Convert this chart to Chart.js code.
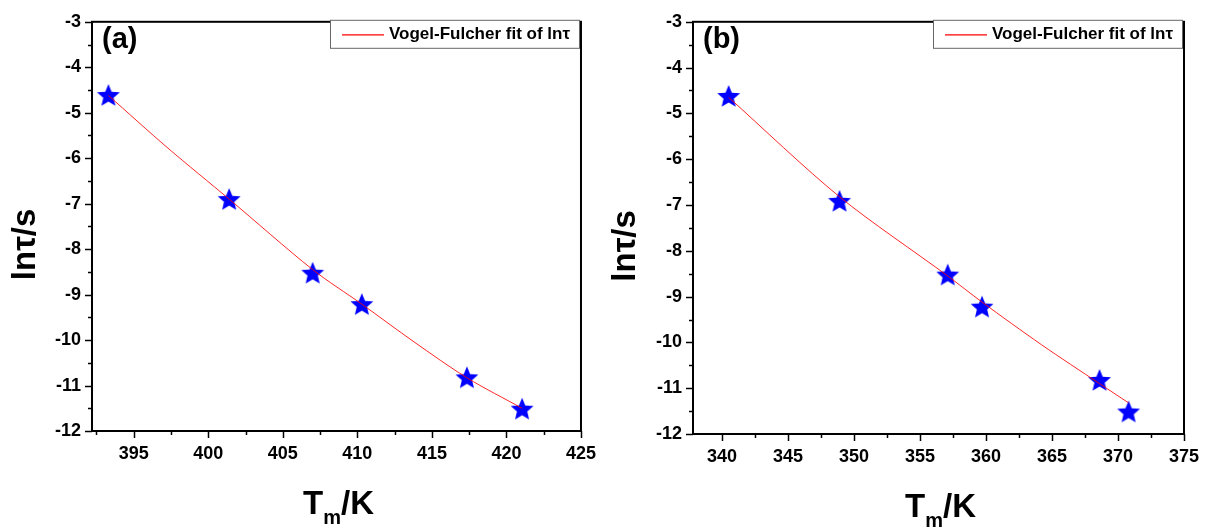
<!DOCTYPE html>
<html>
<head>
<meta charset="utf-8">
<script src="https://cdn.jsdelivr.net/npm/chart.js@4.4.0/dist/chart.umd.min.js"></script>
<style>
  body { margin: 0; background: #fff; }
  #wrap { position: relative; width: 1212px; height: 530px; }
  canvas { position: absolute; top: 0; }
</style>
</head>
<body>
<div id="wrap">
  <canvas id="chartA" width="608" height="530" style="left:0"></canvas>
  <canvas id="chartB" width="612" height="530" style="left:600px"></canvas>
</div>
<script>
// panel (a): measured ln(tau) against T_m
const tempA = [393.3, 401.4, 407.0, 410.3, 417.35, 421.05];
const lnTauA = [-4.61, -6.90, -8.52, -9.21, -10.82, -11.51];
// Vogel-Fulcher fit curve
const fitTempA = [393.3, 397.3, 401.4, 407.0, 410.3, 413.8, 417.35, 421.05];
const fitLnTauA = [-4.62, -5.78, -6.90, -8.45, -9.21, -10.04, -10.83, -11.50];

// panel (b)
const tempB = [340.5, 348.9, 357.1, 359.7, 368.6, 370.8];
const lnTauB = [-4.62, -6.91, -8.52, -9.22, -10.82, -11.51];
const fitTempB = [340.5, 348.9, 357.1, 359.7, 364.2, 368.6, 370.8];
const fitLnTauB = [-4.65, -6.82, -8.55, -9.12, -10.05, -10.90, -11.32];

// tick labels
const xLabelsA = [395, 400, 405, 410, 415, 420, 425];
const xLabelsB = [340, 345, 350, 355, 360, 365, 370, 375];
const yLabels = [-12, -11, -10, -9, -8, -7, -6, -5, -4, -3];

const LEGEND_TEXT = "Vogel-Fulcher fit of ln\u03c4";

function makeStar(r) {
  const c = document.createElement("canvas");
  c.width = c.height = Math.ceil(2 * r + 2);
  const g = c.getContext("2d");
  g.fillStyle = "#0000ff";
  g.beginPath();
  for (let i = 0; i < 10; i++) {
    const rad = i % 2 ? r * 0.45 : r;
    const a = -Math.PI / 2 + i * Math.PI / 5;
    const px = c.width / 2 + rad * Math.cos(a);
    const py = c.height / 2 + 1 + rad * Math.sin(a);
    if (i === 0) g.moveTo(px, py); else g.lineTo(px, py);
  }
  g.closePath();
  g.fill();
  return c;
}
const star = makeStar(12);

const near = (v, step) => Math.abs(v / step - Math.round(v / step)) < 1e-6;

// ticks on every step inside the axis range
function stepTicks(s, step) {
  const out = [];
  for (let v = Math.ceil(s.min / step - 1e-9) * step; v <= s.max + 1e-9; v += step) {
    out.push({ value: Math.round(v * 1000) / 1000 });
  }
  s.ticks = out;
}

// frame, minor/major ticks, panel letter, legend box and axis titles
const decor = {
  id: "decor",
  afterDraw(chart, args, opts) {
    const { ctx, chartArea: a } = chart;
    const xs = chart.scales.x, ys = chart.scales.y;
    ctx.save();
    ctx.strokeStyle = "#000";
    ctx.lineWidth = 1.5;
    xs.ticks.forEach(t => {
      const px = Math.round(xs.getPixelForValue(t.value)) + 0.5;
      const len = near(t.value, 5) ? 7 : 4;
      ctx.beginPath(); ctx.moveTo(px, a.bottom); ctx.lineTo(px, a.bottom + len); ctx.stroke();
    });
    ys.ticks.forEach(t => {
      const py = Math.round(ys.getPixelForValue(t.value)) + 0.5;
      const len = near(t.value, 1) ? 7 : 4;
      ctx.beginPath(); ctx.moveTo(a.left, py); ctx.lineTo(a.left - len, py); ctx.stroke();
    });
    ctx.lineWidth = 2;
    ctx.strokeRect(a.left, a.top, a.right - a.left, a.bottom - a.top);

    // legend
    const bx = a.right - 251, by = a.top - 2, bw = 249, bh = 28;
    ctx.fillStyle = "#fff";
    ctx.fillRect(bx, by, bw, bh);
    ctx.lineWidth = 1;
    ctx.strokeStyle = "#666";
    ctx.strokeRect(bx + 0.5, by + 0.5, bw, bh);
    ctx.strokeStyle = "#ff0000";
    ctx.lineWidth = 1.2;
    ctx.beginPath(); ctx.moveTo(bx + 12, by + 15); ctx.lineTo(bx + 54, by + 15); ctx.stroke();
    ctx.fillStyle = "#000";
    ctx.font = "bold 17px 'Liberation Sans', Arial, sans-serif";
    ctx.textBaseline = "middle";
    ctx.textAlign = "left";
    ctx.fillText(LEGEND_TEXT, bx + 59, by + 15);

    // panel letter
    ctx.font = "bold 29px 'Liberation Sans', Arial, sans-serif";
    ctx.textBaseline = "alphabetic";
    ctx.fillText(opts.letter, a.left + 10, a.top + 26);

    // y title
    ctx.font = "bold 33px 'Liberation Sans', Arial, sans-serif";
    ctx.save();
    ctx.translate(9, (a.top + a.bottom) / 2 + 18);
    ctx.rotate(-Math.PI / 2);
    ctx.textAlign = "center";
    ctx.textBaseline = "top";
    ctx.fillText("ln\u03c4/s", 0, 0);
    ctx.restore();

    // x title T_m/K
    const big = "bold 33px 'Liberation Sans', Arial, sans-serif";
    const small = "bold 20px 'Liberation Sans', Arial, sans-serif";
    ctx.font = big; const wT = ctx.measureText("T").width; const wK = ctx.measureText("/K").width;
    ctx.font = small; const wm = ctx.measureText("m").width;
    let x0 = (a.left + a.right) / 2 - (wT + wm + wK) / 2 + 2;
    const base = a.bottom + 83;
    ctx.textAlign = "left";
    ctx.font = big; ctx.fillText("T", x0, base);
    ctx.font = small; ctx.fillText("m", x0 + wT, base + 10);
    ctx.font = big; ctx.fillText("/K", x0 + wT + wm, base);
    ctx.restore();
  }
};

function makeChart(id, temp, lnTau, fitT, fitY, xLabels, xmin, xmax, box, letter) {
  const xTickSet = new Set(xLabels);
  const yTickSet = new Set(yLabels);
  const tickFont = { family: "'Liberation Sans', Arial, sans-serif", weight: "bold", size: 18 };
  return new Chart(document.getElementById(id), {
    type: "scatter",
    data: {
      datasets: [
        {
          label: LEGEND_TEXT,
          data: fitT.map((t, i) => ({ x: t, y: fitY[i] })),
          showLine: true,
          borderColor: "rgba(255,0,0,0.85)",
          borderWidth: 1,
          pointRadius: 0,
          tension: 0.3,
          fill: false
        },
        {
          label: "ln tau",
          data: temp.map((t, i) => ({ x: t, y: lnTau[i] })),
          pointStyle: star,
          pointRadius: 12,
          showLine: false
        }
      ]
    },
    options: {
      responsive: false,
      animation: false,
      layout: { padding: { left: 0, top: box.top, right: box.right, bottom: 0 } },
      plugins: {
        legend: { display: false },
        tooltip: { enabled: false },
        decor: { letter: letter }
      },
      scales: {
        x: {
          type: "linear",
          min: xmin, max: xmax,
          grid: { display: false, drawTicks: false },
          border: { display: false },
          afterBuildTicks: s => stepTicks(s, 2.5),
          afterFit: s => { s.height = box.xh; },
          ticks: {
            autoSkip: false,
            maxRotation: 0,
            padding: 12,
            color: "#000",
            font: tickFont,
            callback: v => xTickSet.has(Math.round(v * 100) / 100) ? String(v) : ""
          }
        },
        y: {
          type: "linear",
          min: -12, max: -3,
          grid: { display: false, drawTicks: false },
          border: { display: false },
          afterBuildTicks: s => stepTicks(s, 0.5),
          afterFit: s => { s.width = box.yw; },
          ticks: {
            autoSkip: false,
            padding: 11,
            color: "#000",
            font: tickFont,
            callback: v => yTickSet.has(Math.round(v * 100) / 100) ? String(v) : ""
          }
        }
      }
    },
    plugins: [decor]
  });
}

makeChart("chartA", tempA, lnTauA, fitTempA, fitLnTauA, xLabelsA, 392.2, 425,
  { top: 19, right: 11, yw: 92, xh: 99 }, "(a)");
makeChart("chartB", tempB, lnTauB, fitTempB, fitLnTauB, xLabelsB, 337.8, 375,
  { top: 19, right: 28, yw: 93, xh: 96 }, "(b)");
</script>
</body>
</html>
